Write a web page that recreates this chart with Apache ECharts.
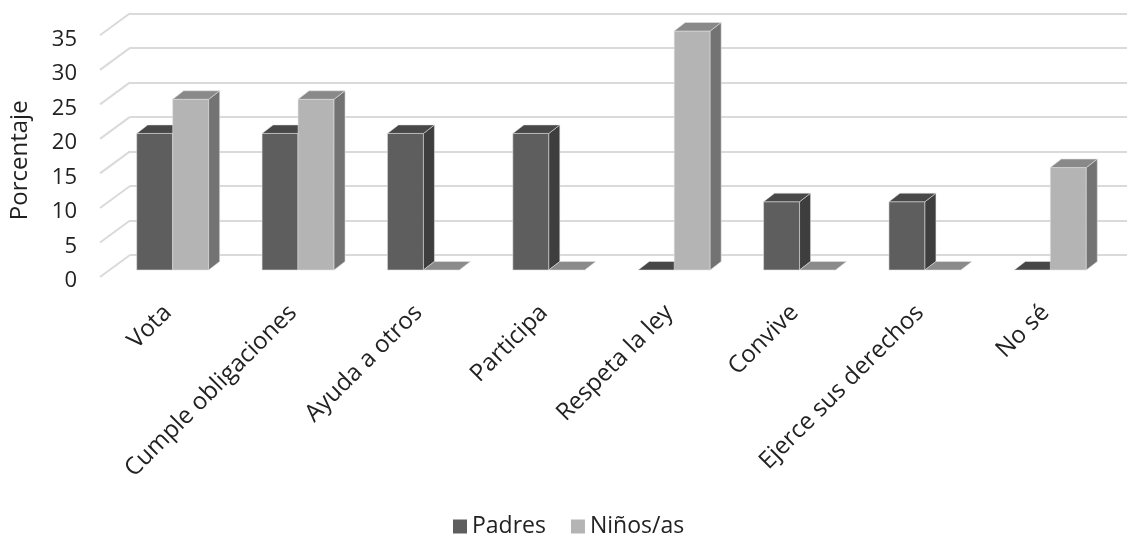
<!DOCTYPE html>
<html>
<head>
<meta charset="utf-8">
<script src="https://cdn.jsdelivr.net/npm/echarts@6/dist/echarts.min.js"></script>
<style>
  html, body { margin: 0; padding: 0; background: #ffffff; }
  #chart { width: 1127px; height: 535px; }
</style>
</head>
<body>
<div id="chart"></div>
<script>
// Data
const categories = ['Vota', 'Cumple obligaciones', 'Ayuda a otros', 'Participa',
                    'Respeta la ley', 'Convive', 'Ejerce sus derechos', 'No sé'];
const padres = [20, 20, 20, 20, 0, 10, 10, 0];
const ninos  = [25, 25, 0, 0, 35, 0, 0, 15];
const yTicks = [0, 5, 10, 15, 20, 25, 30, 35];
const seriesNames = ['Padres', 'Niños/as'];
const axisTitle = 'Porcentaje';

// Shading for the three visible faces of each 3D column
const FACES = [
  { front: '#5e5e5e', top: '#484848', side: '#3e3e3e' },   // Padres
  { front: '#b4b4b4', top: '#898989', side: '#737373' }    // Niños/as
];
const FONT = '"Open Sans", "DejaVu Sans", sans-serif';
const TEXT = '#222222';

// Oblique projection: wall depth and column depth in pixels
const WALL_DX = 30, WALL_DY = 22;
const COL_DX = 11, COL_DY = 8.5;
const BAR_FRAC = 0.287;   // each column's width as a share of one category band

function columnRenderer(idx) {
  return function (params, api) {
    const i = api.value(0);
    const v = api.value(1);
    const base = api.coord([i, 0]);
    const top = api.coord([i, v]);
    const band = api.size([1, 0])[0];
    const w = band * BAR_FRAC;
    const x0 = idx === 0 ? base[0] - w : base[0];
    const x1 = x0 + w;
    const ty = top[1], by = base[1];
    const c = FACES[idx];
    const edge = 'rgba(225,225,225,0.55)';
    const children = [];
    if (by - ty > 0.5) {
      children.push({
        type: 'rect',
        shape: { x: x0, y: ty, width: w, height: by - ty },
        style: { fill: c.front, stroke: edge, lineWidth: 1 }
      });
      children.push({
        type: 'polygon',
        shape: { points: [[x1, ty], [x1 + COL_DX, ty - COL_DY], [x1 + COL_DX, by - COL_DY], [x1, by]] },
        style: { fill: c.side, stroke: edge, lineWidth: 1 }
      });
    }
    children.push({
      type: 'polygon',
      shape: { points: [[x0, ty], [x0 + COL_DX, ty - COL_DY], [x1 + COL_DX, ty - COL_DY], [x1, ty]] },
      style: { fill: v > 0 ? c.top : (idx === 0 ? '#474747' : '#8b8b8b'), stroke: edge, lineWidth: 1 }
    });
    return { type: 'group', children: children };
  };
}

const chart = echarts.init(document.getElementById('chart'), null, { renderer: 'canvas' });

chart.setOption({
  animation: false,
  backgroundColor: '#ffffff',
  textStyle: { fontFamily: FONT },
  legend: {
    data: seriesNames,
    left: 453,
    top: 515,
    padding: 0,
    icon: 'rect',
    itemWidth: 14,
    itemHeight: 14,
    itemGap: 25,
    textStyle: { fontFamily: FONT, fontSize: 23, color: TEXT }
  },
  grid: [
    // back wall
    { left: 130, right: 0, top: 13.3, bottom: 280 },
    // plane of the column fronts
    { left: 110, right: 14, top: 31, bottom: 265 },
    // value labels, set just in front of the side wall
    { left: 100, right: 24, top: 39.5, bottom: 254 }
  ],
  xAxis: [
    { gridIndex: 0, type: 'value', min: 0, max: 1, show: false },
    {
      gridIndex: 1, type: 'category', data: categories,
      axisLine: { show: false }, axisTick: { show: false }, splitLine: { show: false },
      axisLabel: {
        interval: 0, rotate: 45, margin: 34, padding: [0, 7, 0, 0],
        fontFamily: FONT, fontSize: 24, color: TEXT
      }
    },
    { gridIndex: 2, type: 'value', min: 0, max: 1, show: false }
  ],
  yAxis: [
    {
      gridIndex: 0, type: 'value', min: 0, max: 35, interval: 5,
      axisLine: { show: false }, axisTick: { show: false }, axisLabel: { show: false },
      splitLine: { show: true, lineStyle: { color: '#dadada', width: 2 } }
    },
    {
      gridIndex: 1, type: 'value', min: 0, max: 35, interval: 5, show: false
    },
    {
      gridIndex: 2, type: 'value', min: 0, max: 35, interval: 5,
      axisLine: { show: false }, axisTick: { show: false }, splitLine: { show: false },
      axisLabel: { margin: 23, fontFamily: FONT, fontSize: 22, color: TEXT },
      name: axisTitle, nameLocation: 'middle', nameGap: 68, nameRotate: 90,
      nameTextStyle: { fontFamily: FONT, fontSize: 24, color: TEXT }
    }
  ],
  series: [
    {
      // slanted side-wall lines joining the wall gridlines to the front edge
      type: 'custom',
      xAxisIndex: 0, yAxisIndex: 0,
      silent: true,
      data: yTicks.map(v => [0, v]),
      renderItem: function (params, api) {
        const p = api.coord([0, api.value(1)]);
        return {
          type: 'line',
          shape: { x1: p[0], y1: p[1], x2: p[0] - WALL_DX, y2: p[1] + WALL_DY },
          style: { stroke: '#dadada', lineWidth: 2 }
        };
      }
    },
    {
      name: seriesNames[0], type: 'custom',
      xAxisIndex: 1, yAxisIndex: 1,
      itemStyle: { color: FACES[0].front },
      data: padres.map((v, i) => [i, v]),
      renderItem: columnRenderer(0)
    },
    {
      name: seriesNames[1], type: 'custom',
      xAxisIndex: 1, yAxisIndex: 1,
      itemStyle: { color: FACES[1].front },
      data: ninos.map((v, i) => [i, v]),
      renderItem: columnRenderer(1)
    }
  ]
});
</script>
</body>
</html>
